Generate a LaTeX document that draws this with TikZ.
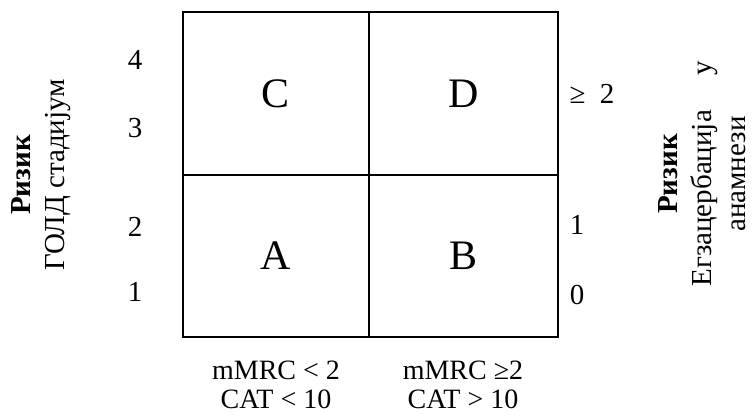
\documentclass[tikz,border=0pt]{standalone}
\usepackage{fontspec}
\setmainfont{Liberation Serif}
\usetikzlibrary{positioning}

\begin{document}
\begin{tikzpicture}[x=1pt,y=-1pt,
      quad/.style={draw,line width=1.5pt,inner sep=0pt,outer sep=0pt,font=\fontsize{42}{46}\selectfont},
      tick/.style={inner sep=0pt,font=\fontsize{29}{32}\selectfont},
      axlabel/.style={align=center,inner sep=0pt,font=\fontsize{28}{29}\selectfont},
      sidelabel/.style={rotate=90,align=center,inner sep=0pt,font=\fontsize{29}{34}\selectfont}]
    \useasboundingbox (0,0) rectangle (753,417);
    % the four quadrants
    \node[quad,minimum width=186pt,minimum height=163pt] (qc) at (276,93.5) {C};
    \node[quad,minimum width=189pt,minimum height=163pt] (qd) at (463.5,93.5) {D};
    \node[quad,minimum width=186pt,minimum height=162pt] (qa) at (276,256) {A};
    \node[quad,minimum width=189pt,minimum height=162pt] (qb) at (463.5,256) {B};
    % left scale
    \node[tick] (l4) at (135,60) {4};
    \node[tick] (l3) at (135,128) {3};
    \node[tick] (l2) at (135,227) {2};
    \node[tick] (l1) at (135,292) {1};
    % right scale
    \node[tick] (r2) at (592,94) {≥\hspace{0.5em}2};
    \node[tick] (r1) at (577,225) {1};
    \node[tick] (r0) at (577,295) {0};
    % bottom labels
    \node[axlabel] (low) at (276,385) {mMRC < 2\\CAT < 10};
    \node[axlabel] (high) at (463,385) {mMRC ≥2\\CAT > 10};
    % side labels
    \node[sidelabel] (gold) at (41,175) {\textbf{Ризик}\\ГОЛД стадијум};
    \node[sidelabel] (exac) at (702,174)
      {\textbf{Ризик}\\\makebox[225pt][s]{Егзацербација у}\\анамнези};
  \end{tikzpicture}
\end{document}
